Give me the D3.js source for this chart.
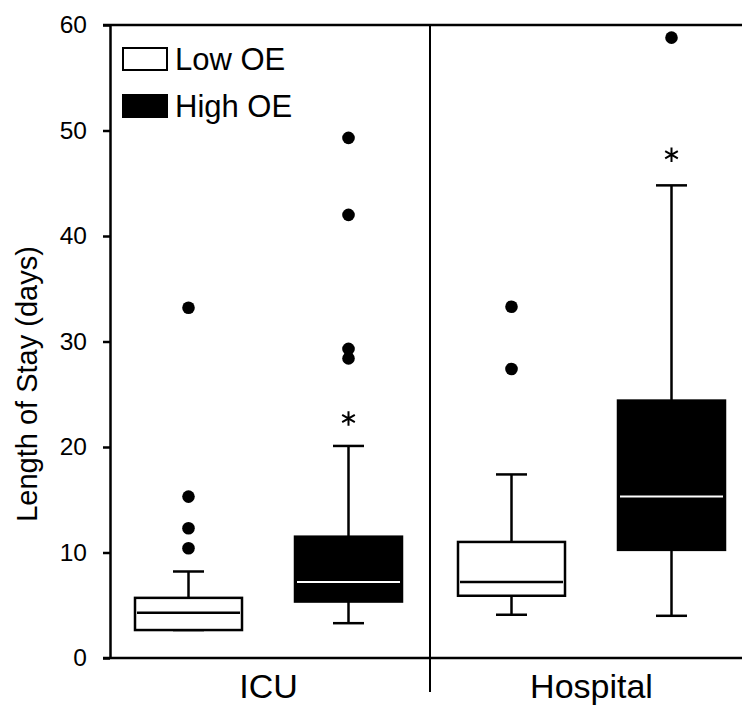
<!DOCTYPE html>
<html>
<head>
<meta charset="utf-8">
<script src="https://cdn.jsdelivr.net/npm/d3@7"></script>
<style>
  body { margin: 0; background: #fff; }
  svg { display: block; font-family: "Liberation Sans", Arial, sans-serif; }
</style>
</head>
<body>
<div id="chart"></div>
<script>
// categories and series
const groups = ["ICU", "Hospital"];
const series = ["Low OE", "High OE"];
const yTicks = [0, 10, 20, 30, 40, 50, 60];

// box stats, one row per group, [Low OE, High OE]
const whiskerLow  = [[2.65, 3.3], [4.1, 4.0]];
const q1          = [[2.65, 5.35], [5.9, 10.25]];
const median      = [[4.3, 7.2], [7.2, 15.3]];
const q3          = [[5.7, 11.5], [11.0, 24.4]];
const whiskerHigh = [[8.2, 20.1], [17.4, 44.8]];
const outliers    = [[[33.2, 15.3, 12.3, 10.4], [49.3, 42.0, 29.3, 28.4]],
                     [[33.3, 27.4], [58.8]]];
// significance marks (asterisk) – null where none
const signif      = [[null, 22.7], [null, 47.7]];

const width = 742, height = 705;

const boxes = [];
groups.forEach((g, gi) => series.forEach((s, si) => boxes.push({
  group: g, series: s,
  lo: whiskerLow[gi][si], q1: q1[gi][si], med: median[gi][si],
  q3: q3[gi][si], hi: whiskerHigh[gi][si],
  out: outliers[gi][si], star: signif[gi][si]
})));

const x = d3.scaleBand().domain(groups).range([107, 753]);
const xs = d3.scalePoint().domain(series).range([-80, 80]);
const y = d3.scaleLinear().domain([0, 60]).range([658, 25]);

const boxW = 107, capW = 31;
const cx = d => x(d.group) + x.bandwidth() / 2 + xs(d.series);
const fill = d => d.series === "High OE" ? "#000" : "#fff";

const svg = d3.select("#chart").append("svg")
    .attr("width", width)
    .attr("height", height);

// y axis
svg.append("g")
    .attr("transform", "translate(110,0)")
    .call(d3.axisLeft(y).tickValues(yTicks).tickSize(7).tickSizeOuter(0).tickPadding(16))
    .call(g => g.selectAll("path,line").attr("stroke", "#000").attr("stroke-width", 2.5))
    .call(g => g.selectAll("text").attr("font-size", 24.5).attr("fill", "#000")
        .attr("font-family", "Liberation Sans, Arial, sans-serif"));

// x axis
svg.append("g")
    .attr("transform", "translate(0,658)")
    .call(d3.axisBottom(x).tickSize(0).tickPadding(16))
    .call(g => g.select(".domain").remove())
    .call(g => g.selectAll("text").attr("font-size", 34).attr("fill", "#000")
        .attr("font-family", "Liberation Sans, Arial, sans-serif"));

svg.append("line")
    .attr("x1", 103).attr("x2", width)
    .attr("y1", y(0)).attr("y2", y(0))
    .attr("stroke", "#000").attr("stroke-width", 2.5);

// top frame
svg.append("line")
    .attr("x1", 103).attr("x2", width)
    .attr("y1", y(60)).attr("y2", y(60))
    .attr("stroke", "#000").attr("stroke-width", 2.5);

// divider between panels
svg.append("line")
    .attr("x1", x("Hospital")).attr("x2", x("Hospital"))
    .attr("y1", y(60)).attr("y2", 692)
    .attr("stroke", "#000").attr("stroke-width", 2);

const b = svg.append("g").selectAll("g")
  .data(boxes)
  .join("g");

// whiskers
b.append("line")
    .attr("x1", cx).attr("x2", cx)
    .attr("y1", d => y(d.q3)).attr("y2", d => y(d.hi))
    .attr("stroke", "#000").attr("stroke-width", 2.5);
b.append("line")
    .attr("x1", cx).attr("x2", cx)
    .attr("y1", d => y(d.q1)).attr("y2", d => y(d.lo))
    .attr("stroke", "#000").attr("stroke-width", 2.5);
b.append("line")
    .attr("x1", d => cx(d) - capW / 2).attr("x2", d => cx(d) + capW / 2)
    .attr("y1", d => y(d.hi)).attr("y2", d => y(d.hi))
    .attr("stroke", "#000").attr("stroke-width", 2.5);
b.append("line")
    .attr("x1", d => cx(d) - capW / 2).attr("x2", d => cx(d) + capW / 2)
    .attr("y1", d => y(d.lo)).attr("y2", d => y(d.lo))
    .attr("stroke", "#000").attr("stroke-width", 2.5);

// boxes
b.append("rect")
    .attr("x", d => cx(d) - boxW / 2)
    .attr("width", boxW)
    .attr("y", d => y(d.q3))
    .attr("height", d => y(d.q1) - y(d.q3))
    .attr("fill", fill)
    .attr("stroke", "#000").attr("stroke-width", 2.5);

// medians
b.append("line")
    .attr("x1", d => cx(d) - boxW / 2 + 2).attr("x2", d => cx(d) + boxW / 2 - 2)
    .attr("y1", d => y(d.med)).attr("y2", d => y(d.med))
    .attr("stroke", d => d.series === "High OE" ? "#fff" : "#000")
    .attr("stroke-width", d => d.series === "High OE" ? 2 : 2.5);

// outliers
b.selectAll("circle")
  .data(d => d.out.map(v => ({ v, d })))
  .join("circle")
    .attr("cx", o => cx(o.d))
    .attr("cy", o => y(o.v))
    .attr("r", 6.3)
    .attr("fill", "#000");

// asterisks
b.filter(d => d.star != null)
  .append("path")
    .attr("transform", d => `translate(${cx(d)},${y(d.star)})`)
    .attr("d", d3.symbol(d3.symbolAsterisk, 150))
    .attr("fill", "none")
    .attr("stroke", "#000")
    .attr("stroke-width", 2);

// y axis title
svg.append("text")
    .attr("transform", "translate(37,384) rotate(-90)")
    .attr("text-anchor", "middle")
    .attr("font-size", 29)
    .attr("fill", "#000")
    .text("Length of Stay (days)");

// legend
const legend = svg.append("g").selectAll("g")
  .data(series)
  .join("g")
    .attr("transform", (d, i) => `translate(123,${48 + i * 47})`);

legend.append("rect")
    .attr("width", 44).attr("height", 22)
    .attr("fill", d => d === "High OE" ? "#000" : "#fff")
    .attr("stroke", "#000").attr("stroke-width", 2);

legend.append("text")
    .attr("x", 52).attr("y", 22)
    .attr("font-size", 31)
    .attr("fill", "#000")
    .text(d => d);
</script>
</body>
</html>
